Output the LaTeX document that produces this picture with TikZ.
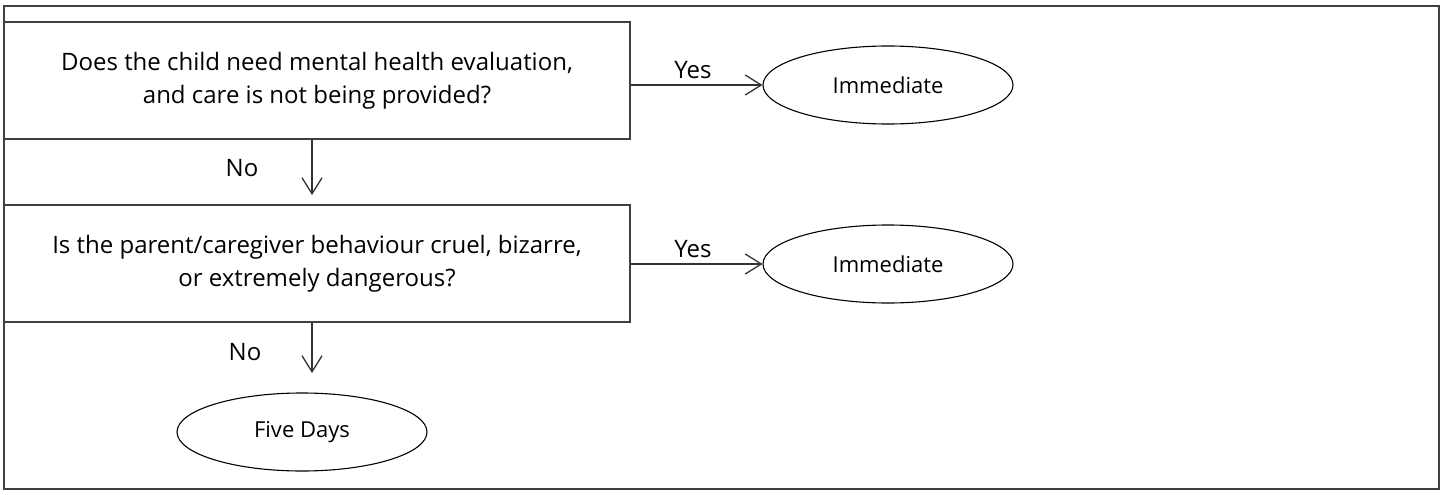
\documentclass[tikz,border=0pt]{standalone}
\usepackage{fontspec}
\setmainfont{Open Sans}
\usetikzlibrary{arrows.meta,shapes.geometric}
\tikzset{
  question/.style={draw=black!75,line width=1.4pt,minimum width=626pt,minimum height=117pt,inner sep=0pt,align=center,font=\fontsize{24}{33}\selectfont},
  outcome/.style={draw,ellipse,line width=1.1pt,minimum width=250pt,minimum height=78pt,inner sep=0pt,font=\fontsize{22}{26}\selectfont},
  answer/.style={font=\fontsize{24}{28}\selectfont},
  flow/.style={-{Straight Barb[length=16pt,width=20pt]},line width=1.3pt,black!80}
}
\begin{document}
\begin{tikzpicture}[x=1pt,y=-1pt]
\useasboundingbox (0,0) rectangle (1445,495);
\draw[black!75,line width=1.6pt] (4,6) rectangle (1439,489);
\node[question] (q1) at (317,80.5) {Does the child need mental health evaluation,\\and care is not being provided?};
\node[question] (q2) at (317,263.5) {Is the parent/caregiver behaviour cruel, bizarre,\\or extremely dangerous?};
\node[outcome] (imm1) at (888,85) {Immediate};
\node[outcome] (imm2) at (888,264) {Immediate};
\node[outcome] (five) at (302,432) {Five Days};
\coordinate (end1) at (312,195);
\coordinate (end2) at (312,373);
\node[answer] (yes1) at (693,70) {Yes};
\node[answer] (yes2) at (693,249) {Yes};
\node[answer] (no1) at (242,168) {No};
\node[answer] (no2) at (245,352) {No};
\draw[flow] (q1.east |- imm1.west) -- (imm1.west);
\draw[flow] (q2.east |- imm2.west) -- (imm2.west);
\draw[flow] (q1.south -| end1) -- (end1);
\draw[flow] (q2.south -| end2) -- (end2);
\end{tikzpicture}
\end{document}
